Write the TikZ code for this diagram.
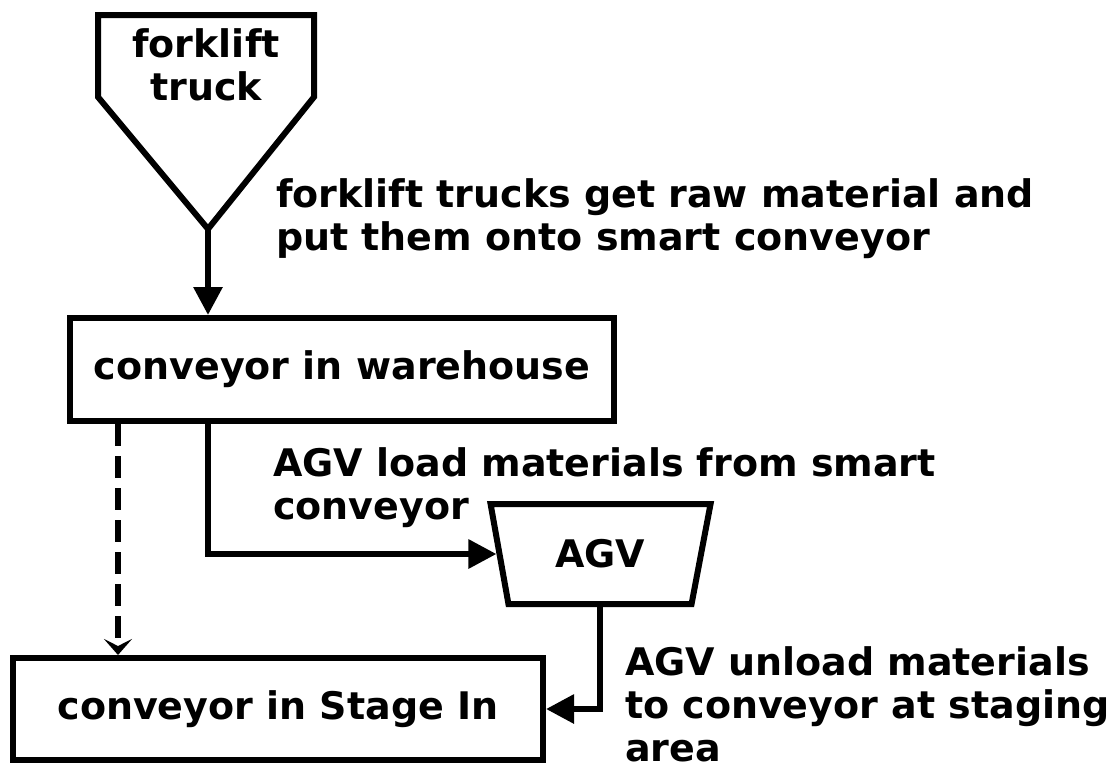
\documentclass[tikz,border=0pt]{standalone}
\usepackage{fontspec}
\setmainfont{DejaVu Sans}
\usetikzlibrary{arrows.meta,shapes.geometric,positioning}

\begin{document}
\begin{tikzpicture}[
	x=1pt, y=-1pt,
	line width=6pt,
	font=\fontsize{38}{43}\selectfont\bfseries,
	box/.style={
		draw,
		rectangle,
		inner sep=0pt,
		minimum height=103pt
	},
	carrier/.style={
		draw,
		trapezium,
		shape border rotate=180,
		trapezium left angle=72,
		trapezium right angle=73,
		trapezium stretches=true,
		inner sep=0pt,
		minimum width=220pt,
		minimum height=100pt
	},
	flow/.style={-{Triangle[length=28pt,width=28pt]}},
	maybe/.style={dash pattern=on 22pt off 10pt, -{Stealth[length=16pt,width=28pt,inset=7pt]}},
	note/.style={anchor=base west, align=left, inner sep=0pt}]

   \useasboundingbox (0,0) rectangle (1114,780);

   % source: forklift truck
   \draw (98,15) -- (314,15) -- (314,97) -- (208,229) coordinate (fltip) -- (98,97) -- cycle;
   \node[align=center, inner sep=0pt, anchor=base] (forklift) at (206,100) {forklift\\truck};

   % conveyors and AGV
   \node[box, minimum width=544pt] (warehouse) at (342,369.5) {conveyor in warehouse};
   \node[box, minimum width=530pt, minimum height=102pt] (stagein) at (278,709) {conveyor in Stage In};
   \node[carrier] (agv) at (600,554) {AGV};

   % connectors
   \draw[flow] (fltip) -- (fltip |- warehouse.north);
   \draw[maybe] ([xshift=51pt]warehouse.south west) -- ([xshift=51pt]warehouse.south west |- stagein.north);
   \draw[flow] (fltip |- warehouse.south) |- (agv.west);
   \draw[flow] (agv.south) |- (stagein.east);

   % labels (base = last line)
   \node[note] (lbltruck) at (273,250) {forklift trucks get raw material and\\put them onto smart conveyor};
   \node[note] (lblload) at (270,519) {AGV load materials from smart\\conveyor};
   \node[note] (lblunload) at (622,761) {AGV unload materials\\to conveyor at staging\\area};
\end{tikzpicture}
\end{document}
